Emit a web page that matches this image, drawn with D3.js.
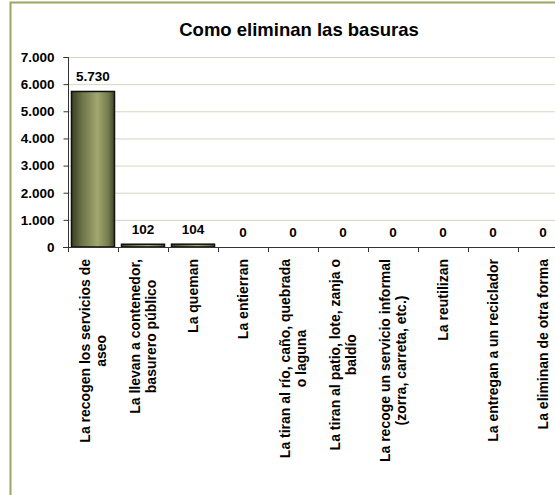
<!DOCTYPE html>
<html><head><meta charset="utf-8">
<script src="https://cdn.jsdelivr.net/npm/d3@7"></script>
<style>html,body{margin:0;padding:0;background:#fff;overflow:hidden}</style>
</head><body>
<svg id="chart" width="555" height="495"></svg>
<script>
const title = "Como eliminan las basuras";
const categories = [
  ["La recogen los servicios de", "aseo"],
  ["La llevan a contenedor,", "basurero público"],
  ["La queman"],
  ["La entierran"],
  ["La tiran al río, caño, quebrada", "o laguna"],
  ["La tiran al patio, lote, zanja o", "baldío"],
  ["La recoge un servicio informal", "(zorra, carreta, etc.)"],
  ["La reutilizan"],
  ["La entregan a un reciclador"],
  ["La eliminan de otra forma"]
];
const values = [5730, 102, 104, 0, 0, 0, 0, 0, 0, 0];
const yTicks = [0, 1000, 2000, 3000, 4000, 5000, 6000, 7000];
const yTickLabels = ["0", "1.000", "2.000", "3.000", "4.000", "5.000", "6.000", "7.000"];
const valueLabels = ["5.730", "102", "104", "0", "0", "0", "0", "0", "0", "0"];

const svg = d3.select("#chart");
const font = "'Liberation Sans', Arial, sans-serif";

// outer border
svg.append("rect").attr("x", 10.5).attr("y", 2.5).attr("width", 600).attr("height", 600)
  .attr("fill", "#fff").attr("stroke", "#9aa764").attr("stroke-width", 2);

const x = d3.scaleBand().domain(d3.range(categories.length)).range([68, 568])
  .paddingInner(0.14).paddingOuter(0.07);
const y = d3.scaleLinear().domain([0, 7000]).range([247, 57]);

// title
svg.append("text").attr("x", 299).attr("y", 36).attr("text-anchor", "middle")
  .attr("font-family", font).attr("font-weight", "bold").attr("font-size", 18.5)
  .attr("fill", "#000").text(title);

// gridlines
svg.append("g").selectAll("line").data(yTicks.filter(d => d > 0)).join("line")
  .attr("x1", 68).attr("x2", 568).attr("y1", d => y(d) + 0.5).attr("y2", d => y(d) + 0.5)
  .attr("stroke", "#d3d7bd").attr("stroke-width", 1);

// gradient
const defs = svg.append("defs");
const grad = defs.append("linearGradient").attr("id", "barGrad")
  .attr("x1", "0%").attr("x2", "100%").attr("y1", "0%").attr("y2", "0%");
grad.append("stop").attr("offset", "0%").attr("stop-color", "#3a3f22");
grad.append("stop").attr("offset", "25%").attr("stop-color", "#6d7447");
grad.append("stop").attr("offset", "60%").attr("stop-color", "#a0a770");
grad.append("stop").attr("offset", "85%").attr("stop-color", "#767d4d");
grad.append("stop").attr("offset", "100%").attr("stop-color", "#3e4325");

// bars
svg.append("g").selectAll("rect").data(values).join("rect")
  .attr("x", (d, i) => x(i)).attr("width", x.bandwidth())
  .attr("y", d => y(d)).attr("height", d => Math.max(0, y(0) - y(d)))
  .attr("fill", "url(#barGrad)").attr("stroke", "#111").attr("stroke-width", 1.5);

// y axis
const yAxis = d3.axisLeft(y).tickValues(yTicks).tickFormat((d, i) => yTickLabels[i]).tickSize(5).tickPadding(9);
const ya = svg.append("g").attr("transform", "translate(68.5,0)").call(yAxis);
ya.select(".domain").attr("stroke", "#333").attr("d", `M-5,${y(7000)+0.5}H0V${y(0)+0.5}`);
ya.selectAll(".tick line").attr("stroke", "#333");
ya.selectAll(".tick text").attr("font-family", font).attr("font-weight", "bold").attr("font-size", 13.5).attr("fill", "#000");

// x axis
const xa = svg.append("g");
xa.append("line").attr("x1", 63).attr("x2", 568).attr("y1", y(0) + 0.5).attr("y2", y(0) + 0.5).attr("stroke", "#333");
xa.selectAll("line.tk").data(d3.range(categories.length + 1)).join("line").attr("class", "tk")
  .attr("x1", i => 68 + i * x.step() + 0.5).attr("x2", i => 68 + i * x.step() + 0.5)
  .attr("y1", y(0)).attr("y2", y(0) + 5).attr("stroke", "#333");

// value labels
svg.append("g").selectAll("text").data(values).join("text")
  .attr("x", (d, i) => x(i) + x.bandwidth() / 2).attr("y", d => y(d) - 10)
  .attr("text-anchor", "middle").attr("font-family", font).attr("font-weight", "bold")
  .attr("font-size", 13.5).attr("fill", "#000").text((d, i) => valueLabels[i]);

// category labels
const lineH = 16;
const labelTop = 259;
categories.forEach((lines, i) => {
  const cx = x(i) + x.bandwidth() / 2;
  const g = svg.append("g");
  const texts = lines.map((t, j) => g.append("text").attr("font-family", font)
    .attr("font-weight", "bold").attr("font-size", 14).attr("fill", "#000")
    .attr("text-anchor", "middle").text(t));
  const W = d3.max(texts, t => t.node().getComputedTextLength());
  const cy = labelTop + W / 2;
  texts.forEach((t, j) => {
    const lx = cx + (j - (lines.length - 1) / 2) * lineH + 5;
    t.attr("transform", `translate(${lx},${cy}) rotate(-90)`);
  });
});
</script>
</body></html>
